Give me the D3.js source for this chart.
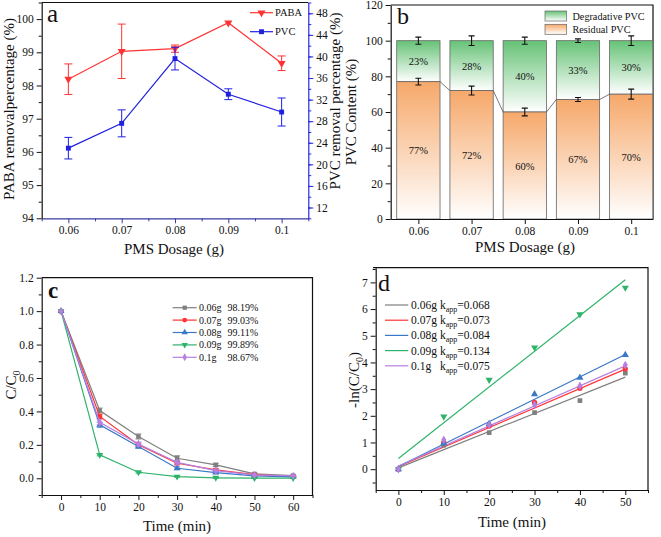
<!DOCTYPE html>
<html><head><meta charset="utf-8">
<script src="https://cdn.jsdelivr.net/npm/d3@7"></script>
<style>body{margin:0;background:#fff} svg text{font-family:"Liberation Serif","Times New Roman",serif !important}</style>
</head><body><script>
// ---------- DATA ----------
const dosage = [0.06, 0.07, 0.08, 0.09, 0.1];
const dosageLabels = ["0.06", "0.07", "0.08", "0.09", "0.1"];
const pabaRemoval = [98.19, 99.03, 99.11, 99.89, 98.67];
const pabaErr = [0.46, 0.82, 0.11, 0, 0.22];
const pvcRemoval = [23.0, 27.6, 39.6, 33.0, 29.7];
const pvcErr = [2.0, 2.5, 2.1, 1.0, 2.6];
const residualPVC = [77, 72, 60, 67, 70];
const degradativePVC = [23, 28, 40, 33, 30];
const residualErr = [1.9, 2.5, 2.2, 1.1, 2.8];
const totalErr = [2.0, 2.7, 2.0, 1.0, 2.7];
const residualLabels = ["77%", "72%", "60%", "67%", "70%"];
const degradLabels = ["23%", "28%", "40%", "33%", "30%"];

const timesC = [0, 10, 20, 30, 40, 50, 60];
const seriesNames = ["0.06g", "0.07g", "0.08g", "0.09g", "0.1g"];
const removalText = ["98.19%", "99.03%", "99.11%", "99.89%", "98.67%"];
const cc0_006 = [1, 0.405, 0.25, 0.12, 0.08, 0.026, 0.016];
const cc0_007 = [1, 0.37, 0.20, 0.09, 0.05, 0.022, 0.010];
const cc0_008 = [1, 0.32, 0.19, 0.06, 0.034, 0.014, 0.008];
const cc0_009 = [1, 0.14, 0.036, 0.010, 0.003, 0.001, 0.001];
const cc0_01  = [1, 0.335, 0.205, 0.095, 0.046, 0.020, 0.014];
const errC_006 = [0, 0.015, 0.015, 0.015, 0.01, 0.006, 0.005];
const errC_007 = [0, 0.012, 0.01, 0.01, 0.008, 0.005, 0.004];
const errC_008 = [0, 0.015, 0.01, 0.008, 0.006, 0.004, 0.003];
const errC_009 = [0, 0.006, 0.005, 0.004, 0.003, 0.002, 0.002];
const errC_01  = [0, 0.015, 0.012, 0.01, 0.008, 0.005, 0.004];

const timesD = [0, 10, 20, 30, 40, 50];
const lnc_006 = [0, 0.90, 1.37, 2.12, 2.57, 3.60];
const lnc_007 = [0, 1.00, 1.62, 2.50, 3.03, 3.76];
const lnc_008 = [0, 0.97, 1.70, 2.81, 3.43, 4.28];
const lnc_009 = [0, 1.97, 3.35, 4.56, 5.80, 6.80];
const lnc_01  = [0, 1.10, 1.66, 2.41, 3.12, 3.90];
const kappText = ["0.068", "0.073", "0.084", "0.134", "0.075"];
const fitStart = [0.05, 0.10, 0.10, 0.40, 0.12];   // fitted line value at t=0
const fitEnd   = [3.45, 3.75, 4.30, 7.10, 3.87];   // fitted line value at t=50

const colors = ["#7f7f7f", "#ff3333", "#3a78c8", "#2fb36a", "#b77fe0"];
const shapes = [d3.symbolSquare, d3.symbolCircle, d3.symbolTriangle, "down", d3.symbolDiamond];

// ---------- SETUP ----------
const FONT = "'Liberation Serif', 'Times New Roman', serif";
const svg = d3.select("body").append("svg").attr("width", 661).attr("height", 537).attr("font-family", FONT);
const defs = svg.append("defs");
function grad(id, c) {
  const g = defs.append("linearGradient").attr("id", id).attr("x1", 0).attr("y1", 0).attr("x2", 0).attr("y2", 1);
  g.append("stop").attr("offset", "0%").attr("stop-color", c);
  g.append("stop").attr("offset", "100%").attr("stop-color", "#ffffff");
}
grad("gGreen", "#66c276");
grad("gOrange", "#f6a86a");

const TICK_FS = 11.5;
function axis(g, orient, scale, tx, ty, major, minor, fmt, color) {
  const mk = {left: d3.axisLeft, right: d3.axisRight, bottom: d3.axisBottom}[orient];
  const a = g.append("g").attr("transform", `translate(${tx},${ty})`)
    .call(mk(scale).tickValues(major).tickSize(5).tickSizeOuter(0).tickPadding(3).tickFormat((d, i) => fmt(d, i)));
  a.attr("font-family", FONT);
  a.select(".domain").attr("stroke", color).attr("stroke-width", 1.2);
  a.selectAll(".tick line").attr("stroke", color);
  a.selectAll(".tick text").attr("fill", "#111").attr("font-size", TICK_FS).style("font-family", FONT);
  if (minor) {
    const b = g.append("g").attr("transform", `translate(${tx},${ty})`)
      .call(mk(scale).tickValues(minor).tickSize(3).tickSizeOuter(0).tickFormat(""));
    b.select(".domain").remove();
    b.selectAll(".tick line").attr("stroke", color);
  }
  return a;
}
function sym(shape, size) {
  if (shape === "down") return d3.symbol(d3.symbolTriangle, size)();
  return d3.symbol(shape, size)();
}
function symTransform(shape, x, y) {
  return shape === "down" ? `translate(${x},${y}) rotate(180)` : `translate(${x},${y})`;
}
function label(text, x, y, size, opts = {}) {
  const t = svg.append("text").attr("x", x).attr("y", y).attr("font-size", size).style("font-family", FONT)
    .attr("text-anchor", opts.anchor || "middle").attr("fill", "#111").text(text);
  if (opts.rotate) t.attr("transform", `rotate(-90,${x},${y})`);
  if (opts.bold) t.attr("font-weight", "bold");
  return t;
}
const range = (a, b, s) => d3.range(a, b + s / 2, s);

// ---------- PANEL A ----------
{
  const x = d3.scaleLinear([0.055, 0.105], [41.7, 308.3]);
  const yL = d3.scaleLinear([94, 100.5], [218.3, 2.5]);
  const yR = d3.scaleLinear([10, 50], [218.3, 2.5]);
  const g = svg.append("g");
  g.append("line").attr("x1", 41.7).attr("x2", 308.3).attr("y1", 2.5).attr("y2", 2.5).attr("stroke", "#111").attr("stroke-width", 1.2);
  axis(g, "bottom", x, 0, 218.3, dosage, range(0.055, 0.105, 0.01), (d, i) => dosageLabels[i], "#3a3aa0");
  axis(g, "left", yL, 41.7, 0, range(94, 100, 1), range(94.5, 100.5, 1), d => d3.format("d")(d), "#111");
  axis(g, "right", yR, 308.3, 0, range(12, 48, 4), range(10, 50, 2), d => d, "#2a2ae0");

  const red = "#ff3333", blue = "#2020e0";
  g.append("path").datum(dosage).attr("fill", "none").attr("stroke", red).attr("stroke-width", 1.2)
    .attr("d", d3.line().x(d => x(d)).y((d, i) => yL(pabaRemoval[i])));
  dosage.forEach((d, i) => {
    if (pabaErr[i] > 0) {
      const cx = x(d), y1 = yL(pabaRemoval[i] - pabaErr[i]), y2 = yL(pabaRemoval[i] + pabaErr[i]);
      g.append("path").attr("d", `M${cx},${y1}V${y2}M${cx - 4},${y1}H${cx + 4}M${cx - 4},${y2}H${cx + 4}`).attr("stroke", red).attr("stroke-width", 1);
    }
    g.append("path").attr("d", sym("down", 28)).attr("transform", symTransform("down", x(d), yL(pabaRemoval[i]))).attr("fill", red);
  });
  g.append("path").datum(dosage).attr("fill", "none").attr("stroke", blue).attr("stroke-width", 1.2)
    .attr("d", d3.line().x(d => x(d)).y((d, i) => yR(pvcRemoval[i])));
  dosage.forEach((d, i) => {
    const cx = x(d), y1 = yR(pvcRemoval[i] - pvcErr[i]), y2 = yR(pvcRemoval[i] + pvcErr[i]);
    g.append("path").attr("d", `M${cx},${y1}V${y2}M${cx - 4},${y1}H${cx + 4}M${cx - 4},${y2}H${cx + 4}`).attr("stroke", blue).attr("stroke-width", 1);
    g.append("path").attr("d", sym(d3.symbolSquare, 24)).attr("transform", `translate(${cx},${yR(pvcRemoval[i])})`).attr("fill", blue);
  });
  g.append("line").attr("x1", 250).attr("x2", 273).attr("y1", 12.7).attr("y2", 12.7).attr("stroke", red).attr("stroke-width", 1.2);
  g.append("path").attr("d", sym("down", 28)).attr("transform", symTransform("down", 261.5, 12.7)).attr("fill", red);
  g.append("line").attr("x1", 250).attr("x2", 273).attr("y1", 31.7).attr("y2", 31.7).attr("stroke", blue).attr("stroke-width", 1.2);
  g.append("path").attr("d", sym(d3.symbolSquare, 24)).attr("transform", `translate(261.5,31.7)`).attr("fill", blue);
  label("PABA", 275, 16.3, 10.5, {anchor: "start"});
  label("PVC", 275, 35.3, 10.5, {anchor: "start"});

  label("a", 47, 22, 25, {anchor: "start"});
  label("PMS Dosage (g)", 174, 254, 15);
  label("PABA removalpercentage (%)", 13.5, 109, 15, {rotate: true});
  label("PVC removal percentage (%)", 339.5, 101, 15, {rotate: true});
}

// ---------- PANEL B ----------
{
  const x = d3.scaleLinear([0.0548, 0.1041], [390.7, 653]);
  const y = d3.scaleLinear([0, 120], [219, 5]);
  const bw = 43.3;
  const g = svg.append("g");
  g.append("path").attr("d", `M390.7,5H653V219`).attr("fill", "none").attr("stroke", "#111").attr("stroke-width", 1.2);
  dosage.forEach((d, i) => {
    const cx = x(d);
    const top = residualPVC[i] + degradativePVC[i];
    g.append("rect").attr("x", cx - bw / 2).attr("width", bw).attr("y", y(top)).attr("height", y(residualPVC[i]) - y(top))
      .attr("fill", "url(#gGreen)").attr("stroke", "#666").attr("stroke-width", 0.8);
    g.append("rect").attr("x", cx - bw / 2).attr("width", bw).attr("y", y(residualPVC[i])).attr("height", y(0) - y(residualPVC[i]))
      .attr("fill", "url(#gOrange)").attr("stroke", "#666").attr("stroke-width", 0.8);
    label(degradLabels[i], cx, y(residualPVC[i] + degradativePVC[i] / 2) + 4, 10.5);
    label(residualLabels[i], cx, y(residualPVC[i] / 2) + 4, 10.5);
    [[top, totalErr[i]], [residualPVC[i], residualErr[i]]].forEach(([v, e]) => {
      const y1 = y(v - e), y2 = y(v + e);
      g.append("path").attr("d", `M${cx},${y1}V${y2}M${cx - 3},${y1}H${cx + 3}M${cx - 3},${y2}H${cx + 3}`).attr("stroke", "#111").attr("stroke-width", 1.1);
    });
  });
  for (let i = 0; i < dosage.length - 1; i++) {
    g.append("line").attr("x1", x(dosage[i]) + bw / 2).attr("x2", x(dosage[i + 1]) - bw / 2)
      .attr("y1", y(residualPVC[i])).attr("y2", y(residualPVC[i + 1])).attr("stroke", "#555").attr("stroke-width", 0.8);
  }
  axis(g, "bottom", x, 0, 219, dosage, null, (d, i) => dosageLabels[i], "#111");
  axis(g, "left", y, 390.7, 0, range(0, 120, 20), range(10, 110, 20), d => d, "#111");
  g.append("rect").attr("x", 545).attr("y", 11).attr("width", 21.7).attr("height", 10).attr("fill", "url(#gGreen)").attr("stroke", "#666").attr("stroke-width", 0.7);
  g.append("rect").attr("x", 545).attr("y", 24.3).attr("width", 21.7).attr("height", 10).attr("fill", "url(#gOrange)").attr("stroke", "#666").attr("stroke-width", 0.7);
  label("Degradative PVC", 572.5, 20, 10.2, {anchor: "start"});
  label("Residual PVC", 572.5, 33.3, 10.2, {anchor: "start"});

  label("b", 397, 24, 24, {anchor: "start"});
  label("PMS Dosage (g)", 525, 252, 15);
  label("PVC Content (%)", 356, 112, 15, {rotate: true});
}

// ---------- PANEL C ----------
{
  const x = d3.scaleLinear([-5, 65], [41.7, 312.5]);
  const y = d3.scaleLinear([-0.1, 1.2], [495, 277.7]);
  const g = svg.append("g");
  g.append("path").attr("d", `M41.7,277.7H312.5V495`).attr("fill", "none").attr("stroke", "#111").attr("stroke-width", 1.2);
  axis(g, "bottom", x, 0, 495, range(0, 60, 10), range(-5, 65, 10), d => d, "#111");
  axis(g, "left", y, 41.7, 0, range(0, 1.2, 0.2), range(-0.1, 1.1, 0.2), d => d3.format(".1f")(d), "#111");
  const data = [cc0_006, cc0_007, cc0_008, cc0_009, cc0_01];
  const errs = [errC_006, errC_007, errC_008, errC_009, errC_01];
  data.forEach((vals, s) => {
    g.append("path").datum(vals).attr("fill", "none").attr("stroke", colors[s]).attr("stroke-width", 1.2)
      .attr("d", d3.line().x((d, i) => x(timesC[i])).y(d => y(d)));
    vals.forEach((v, i) => {
      const cx = x(timesC[i]);
      if (errs[s][i] > 0) {
        const y1 = y(v - errs[s][i]), y2 = y(v + errs[s][i]);
        g.append("path").attr("d", `M${cx},${y1}V${y2}M${cx - 3},${y1}H${cx + 3}M${cx - 3},${y2}H${cx + 3}`).attr("stroke", colors[s]).attr("stroke-width", 0.9);
      }
      g.append("path").attr("d", sym(shapes[s], 20)).attr("transform", symTransform(shapes[s], cx, y(v))).attr("fill", colors[s]);
    });
  });
  const ly = [307.7, 320.1, 332.5, 344.9, 357.3];
  seriesNames.forEach((n, s) => {
    g.append("line").attr("x1", 172.7).attr("x2", 196.7).attr("y1", ly[s]).attr("y2", ly[s]).attr("stroke", colors[s]).attr("stroke-width", 1.2);
    g.append("path").attr("d", sym(shapes[s], 18)).attr("transform", symTransform(shapes[s], 184.7, ly[s])).attr("fill", colors[s]);
    label(n, 199, ly[s] + 3.5, 10, {anchor: "start"});
    label(removalText[s], 227.5, ly[s] + 3.5, 10, {anchor: "start"});
  });
  label("c", 48, 298, 23, {anchor: "start", bold: true});
  label("Time (min)", 177, 531, 15);
  const t = label("", 15.5, 385, 15, {rotate: true});
  t.append("tspan").text("C/C");
  t.append("tspan").attr("font-size", 10).attr("dy", 4).text("0");
}

// ---------- PANEL D ----------
{
  const x = d3.scaleLinear([-5, 55], [375.7, 648]);
  const y = d3.scaleLinear([-0.78, 7.55], [490, 267.7]);
  const g = svg.append("g");
  g.append("path").attr("d", `M373,267.7H648V490`).attr("fill", "none").attr("stroke", "#111").attr("stroke-width", 1.2);
  axis(g, "bottom", x, 0, 490, range(0, 50, 10), range(-5, 55, 10), d => d, "#111");
  axis(g, "left", y, 375.7, 0, range(0, 7, 1), range(-0.5, 7.5, 1), d => d, "#111");
  const data = [lnc_006, lnc_007, lnc_008, lnc_009, lnc_01];
  data.forEach((vals, s) => {
    g.append("line").attr("x1", x(timesD[0])).attr("x2", x(timesD[timesD.length - 1]))
      .attr("y1", y(fitStart[s])).attr("y2", y(fitEnd[s])).attr("stroke", colors[s]).attr("stroke-width", 1.2);
  });
  data.forEach((vals, s) => {
    vals.forEach((v, i) => {
      g.append("path").attr("d", sym(shapes[s], 22)).attr("transform", symTransform(shapes[s], x(timesD[i]), y(v))).attr("fill", colors[s]);
    });
  });
  const ly = [305, 320.2, 335.4, 350.6, 365.8];
  seriesNames.forEach((n, s) => {
    g.append("line").attr("x1", 385).attr("x2", 408.3).attr("y1", ly[s]).attr("y2", ly[s]).attr("stroke", colors[s]).attr("stroke-width", 1.2);
    label(n, 411, ly[s] + 4, 11.5, {anchor: "start"});
    const t = label("", 440, ly[s] + 4, 11.5, {anchor: "start"});
    t.append("tspan").text("k");
    t.append("tspan").attr("font-size", 8).attr("dy", 3).text("app");
    t.append("tspan").attr("dy", -3).text("=" + kappText[s]);
  });
  label("d", 378, 291, 24, {anchor: "start"});
  label("Time (min)", 512, 527, 15);
  const t = label("", 359, 380, 15, {rotate: true});
  t.append("tspan").text("-ln(C/C");
  t.append("tspan").attr("font-size", 10).attr("dy", 4).text("0");
  t.append("tspan").attr("dy", -4).text(")");
}
</script></body></html>
